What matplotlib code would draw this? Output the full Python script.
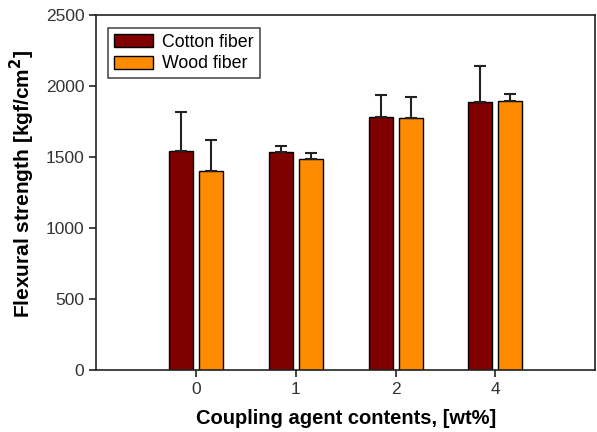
import matplotlib
matplotlib.use("Agg")
import matplotlib.pyplot as plt
import numpy as np

plt.rcParams['font.family'] = ['Liberation Sans', 'DejaVu Sans']

categories = ['0', '1', '2', '4']
cotton = [1542, 1535, 1784, 1890]
cotton_err = [277, 42, 153, 253]
wood = [1403, 1488, 1775, 1897]
wood_err = [217, 38, 150, 47]

x = np.arange(len(categories))
w = 0.24

fig = plt.figure(figsize=(5.97, 4.32), dpi=100)
ax = fig.add_axes([0.161, 0.1435, 0.836, 0.8215])

ax.bar(x - 0.15, cotton, w, color='#800000', edgecolor='black', linewidth=1,
       yerr=[np.zeros(4), cotton_err], capsize=4,
       error_kw=dict(elinewidth=1.5, capthick=1.5, ecolor='#222222'),
       label='Cotton fiber')
ax.bar(x + 0.15, wood, w, color='#FF8C00', edgecolor='black', linewidth=1,
       yerr=[np.zeros(4), wood_err], capsize=4,
       error_kw=dict(elinewidth=1.5, capthick=1.5, ecolor='#222222'),
       label='Wood fiber')

ax.set_xlim(-1, 4)
ax.set_ylim(0, 2500)
ax.set_xticks(x)
ax.set_xticklabels(categories)
ax.set_yticks(range(0, 2501, 500))
ax.tick_params(axis='both', labelsize=12.5, direction='out', length=5, width=1.2, colors='#222222')
ax.tick_params(axis='both', labelcolor='#333333')
for s in ax.spines.values():
    s.set_linewidth(1.2)
    s.set_color('#222222')

ax.set_xlabel('Coupling agent contents, [wt%]', fontsize=14.5, fontweight='bold', labelpad=9)
ax.set_ylabel('Flexural strength [kgf/cm$^\\mathbf{2}$]', fontsize=15, fontweight='bold')
ax.yaxis.set_label_coords(-0.118, 0.525)

leg = ax.legend(loc='upper left', bbox_to_anchor=(0.005, 0.99), fontsize=12.8, fancybox=False,
                edgecolor='#222222', handlelength=2.2, handleheight=0.75, borderpad=0.35,
                labelspacing=0.25, handletextpad=0.5)
leg.get_frame().set_linewidth(1.2)

fig.savefig('out.png', dpi=100)
